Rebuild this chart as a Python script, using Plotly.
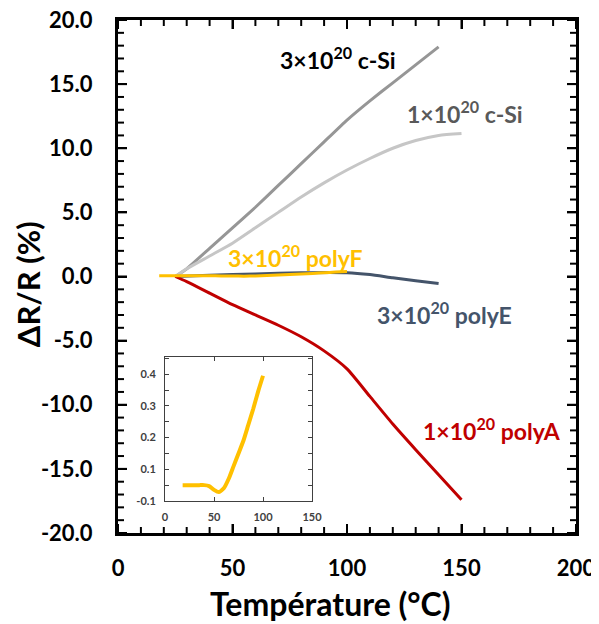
import plotly.graph_objects as go

# ---- data ----
csi3_x = [25, 30, 40, 50, 60, 70, 80, 90, 100, 110, 120, 130, 140]
csi3_y = [0, 0.6, 2.2, 3.8, 5.4, 7.1, 8.8, 10.5, 12.2, 13.7, 15.1, 16.5, 17.9]

csi1_x = [25, 30, 40, 50, 60, 70, 80, 90, 100, 110, 120, 130, 140, 150]
csi1_y = [0, 0.6, 1.6, 2.6, 3.8, 5.0, 6.2, 7.3, 8.3, 9.2, 10.0, 10.6, 11.0, 11.15]

polyE_x = [25, 40, 60, 80, 100, 110, 120, 130, 140]
polyE_y = [0, 0.1, 0.2, 0.3, 0.3, 0.15, -0.1, -0.33, -0.55]

polyA_x = [25, 30, 40, 50, 60, 70, 80, 90, 100, 110, 120, 130, 140, 150]
polyA_y = [0, -0.4, -1.3, -2.2, -3.0, -3.8, -4.7, -5.8, -7.2, -9.35, -11.5, -13.5, -15.45, -17.4]

polyF_x = [18, 25, 30, 35, 40, 45, 50, 55, 60, 65, 70, 75, 80, 85, 90, 95, 100]
polyF_y = [0.05, 0.05, 0.05, 0.05, 0.05, 0.047, 0.035, 0.028, 0.04, 0.07, 0.11, 0.15,
           0.19, 0.24, 0.29, 0.345, 0.395]

x_range = [0, 200]
y_range = [-20, 20]
y_ticks = [-20, -15, -10, -5, 0, 5, 10, 15, 20]
x_ticks = [0, 50, 100, 150, 200]
x_minor = list(range(0, 201, 10))
y_minor = list(range(-20, 21, 1))
inset_y_ticks = [0, 0.1, 0.2, 0.3, 0.4]
inset_y_labels = ["-0.1", "0.1", "0.2", "0.3", "0.4"]
inset_x_ticks = [0, 50, 100, 150]

labels = [
    ("3×10<sup>20</sup> c-Si", 96.1, 17.0, "#000000"),
    ("1×10<sup>20</sup> c-Si", 151.5, 12.75, "#595959"),
    ("3×10<sup>20</sup> polyF", 77.3, 1.55, "#FFC000"),
    ("3×10<sup>20</sup> polyE", 142.4, -2.85, "#44546A"),
    ("1×10<sup>20</sup> polyA", 163.3, -11.95, "#C00000"),
]

FONT = "Lato"
W, H = 599, 624
ML, MR, MT, MB = 110, 31, 12, 99   # compensates the page's 8 px body offset
PLOT_W, PLOT_H = W - ML - MR, H - MT - MB
px_x = PLOT_W / (x_range[1] - x_range[0])
px_y = PLOT_H / (y_range[1] - y_range[0])

fig = go.Figure()
fig.add_trace(go.Scatter(x=csi3_x, y=csi3_y, mode="lines", hoverinfo="skip",
                         line=dict(color="#969696", width=3, shape="spline", smoothing=0.4)))
fig.add_trace(go.Scatter(x=csi1_x, y=csi1_y, mode="lines", hoverinfo="skip",
                         line=dict(color="#C6C6C6", width=3, shape="spline", smoothing=0.6)))
fig.add_trace(go.Scatter(x=polyE_x, y=polyE_y, mode="lines", hoverinfo="skip",
                         line=dict(color="#44546A", width=3, shape="spline", smoothing=0.5)))
fig.add_trace(go.Scatter(x=polyA_x, y=polyA_y, mode="lines", hoverinfo="skip",
                         line=dict(color="#C00000", width=3, shape="spline", smoothing=0.6)))
fig.add_trace(go.Scatter(x=polyF_x, y=polyF_y, mode="lines", hoverinfo="skip",
                         line=dict(color="#FFC000", width=3, shape="spline", smoothing=0.5)))

# inward ticks on all four sides, drawn through the main axes
fx, fy = [], []
for v in x_minor:
    ln = 9 if v in x_ticks else 6
    fx += [v, v, None, v, v, None]
    fy += [y_range[0], y_range[0] + ln / px_y, None, y_range[1], y_range[1] - ln / px_y, None]
for v in y_minor:
    ln = 9 if v in y_ticks else 6
    fx += [x_range[0], x_range[0] + ln / px_x, None, x_range[1], x_range[1] - ln / px_x, None]
    fy += [v, v, None, v, v, None]
fig.add_trace(go.Scatter(x=fx, y=fy, mode="lines", hoverinfo="skip",
                         line=dict(color="black", width=2)))

# inset
fig.add_trace(go.Scatter(x=polyF_x, y=polyF_y, mode="lines", xaxis="x2", yaxis="y2",
                         hoverinfo="skip",
                         line=dict(color="#FFC000", width=4, shape="spline", smoothing=0.5)))

fig.update_layout(
    width=W, height=H,
    margin=dict(l=ML, r=MR, t=MT, b=MB),
    paper_bgcolor="white", plot_bgcolor="white",
    showlegend=False,
    xaxis=dict(range=x_range, tickmode="array", tickvals=x_ticks,
               showgrid=False, zeroline=False, showline=True, linecolor="black",
               linewidth=3, mirror="ticks", ticks="inside", ticklen=9, tickwidth=2,
               tickcolor="black", automargin=False, ticklabeloverflow="allow",
               ticklabelstandoff=14,
               tickfont=dict(family=FONT, size=22, color="black", weight="bold")),
    yaxis=dict(range=y_range, tickmode="array", tickvals=y_ticks,
               ticktext=[f"{v:.1f}" for v in y_ticks],
               showgrid=False, zeroline=False, showline=True, linecolor="black",
               linewidth=3, mirror="ticks", ticks="inside", ticklen=9, tickwidth=2,
               tickcolor="black", automargin=False, ticklabelstandoff=18,
               ticklabeloverflow="allow",
               tickfont=dict(family=FONT, size=22, color="black", weight="bold")),
    xaxis2=dict(domain=[0.1026, 0.4236], anchor="y2", range=[0, 150], tickvals=inset_x_ticks,
                showgrid=False, zeroline=False, showline=True, linecolor="#404040", linewidth=1,
                mirror="ticks", ticks="inside", ticklen=4, tickwidth=1, tickcolor="#404040",
                ticklabelstandoff=6, automargin=False,
                tickfont=dict(family=FONT, size=11, color="#404040", weight="bold")),
    yaxis2=dict(domain=[0.0624, 0.343], anchor="x2", range=[0, 0.454],
                tickvals=inset_y_ticks, ticktext=inset_y_labels,
                showgrid=False, zeroline=False, showline=True, linecolor="#404040", linewidth=1,
                mirror="ticks", ticks="inside", ticklen=4, tickwidth=1, tickcolor="#404040",
                ticklabelstandoff=6, automargin=False,
                minor=dict(dtick=0.05, ticks="inside", ticklen=4, tickwidth=1, tickcolor="#404040"),
                tickfont=dict(family=FONT, size=11, color="#404040", weight="bold")),
)

for text, x, y, color in labels:
    fig.add_annotation(x=x, y=y, xref="x", yref="y", text=text, showarrow=False,
                       font=dict(family=FONT, size=23, color=color, weight="bold"),
                       xanchor="center", yanchor="middle")

fig.add_annotation(x=0.463, y=-0.1365, xref="paper", yref="paper", text="Température (°C)",
                   showarrow=False, xanchor="center", yanchor="middle",
                   font=dict(family=FONT, size=32, color="black", weight="bold"))
fig.add_annotation(x=-0.1965, y=0.485, xref="paper", yref="paper", text="ΔR/R (%)",
                   showarrow=False, xanchor="center", yanchor="middle", textangle=-90,
                   font=dict(family=FONT, size=31, color="black", weight="bold"))

fig.write_html("out.html")
